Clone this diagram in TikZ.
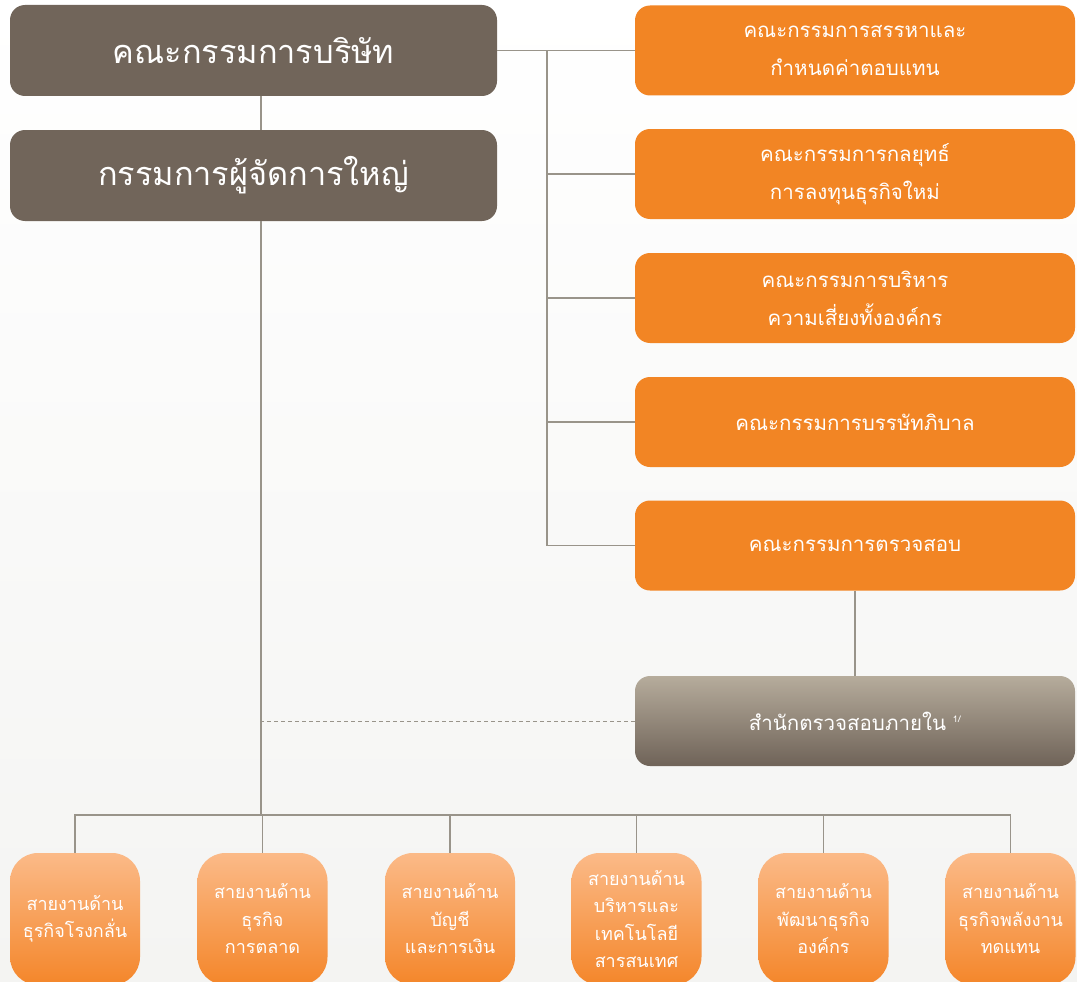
\documentclass[tikz,border=0pt]{standalone}
\usepackage{fontspec}
\newfontfamily\thai[Script=Thai]{Loma}
\definecolor{brownbox}{RGB}{113,101,90}
\definecolor{orangebox}{RGB}{242,133,36}
\definecolor{iatop}{RGB}{182,172,156}
\definecolor{iabot}{RGB}{111,99,88}
\definecolor{divtop}{RGB}{251,186,136}
\definecolor{divbot}{RGB}{244,134,42}
\definecolor{linec}{RGB}{153,148,138}
\definecolor{bgbot}{RGB}{244,244,242}
\tikzset{
  topbox/.style={fill=brownbox, rounded corners=15pt, minimum width=487pt, minimum height=91pt, inner sep=0pt, text=white, font=\thai\fontsize{32.5}{38}\selectfont},
  combox/.style={fill=orangebox, rounded corners=15pt, minimum width=440pt, minimum height=90pt, inner sep=0pt, text=white, align=center, font=\thai\fontsize{20.5}{38}\selectfont},
  iabox/.style={top color=iatop, bottom color=iabot, rounded corners=15pt, minimum width=440pt, minimum height=90pt, inner sep=0pt, text=white, font=\thai\fontsize{20.5}{38}\selectfont},
  divbox/.style={top color=divtop, bottom color=divbot, rounded corners=28pt, minimum width=130pt, minimum height=132pt, inner sep=0pt, text=white, align=center, font=\thai\fontsize{18}{27.5}\selectfont},
  conn/.style={draw=linec, line width=1.1pt},
}
\begin{document}
\begin{tikzpicture}[x=1pt,y=-1pt]
\useasboundingbox (0,0) rectangle (1077,982);
\clip (0,0) rectangle (1077,982);
\shade[top color=white, bottom color=bgbot] (0,0) rectangle (1077,982);
% coordinates
\coordinate (sp) at (261,815);
\coordinate (tr) at (547,0);
\coordinate (bus) at (0,815);
% top boxes
\node[topbox] (board) at (253.5,50.5) {คณะกรรมการบริษัท};
\node[topbox] (md) at (253.5,175.5) {กรรมการผู้จัดการใหญ่};
% committees
\node[combox] (c1) at (855,50.5) {คณะกรรมการสรรหาและ\\กำหนดค่าตอบแทน};
\node[combox] (c2) at (855,174) {คณะกรรมการกลยุทธ์\\การลงทุนธุรกิจใหม่};
\node[combox] (c3) at (855,298) {คณะกรรมการบริหาร\\ความเสี่ยงทั้งองค์กร};
\node[combox] (c4) at (855,422) {คณะกรรมการบรรษัทภิบาล};
\node[combox] (c5) at (855,545.5) {คณะกรรมการตรวจสอบ};
\node[iabox] (ia) at (855,721) {สำนักตรวจสอบภายใน \textsuperscript{\fontsize{9}{9}\selectfont 1/}};
% divisions
\node[divbox] (d1) at (75,919) {สายงานด้าน\\ธุรกิจโรงกลั่น};
\node[divbox] (d2) at (262.5,919) {สายงานด้าน\\ธุรกิจ\\การตลาด};
\node[divbox] (d3) at (450,919) {สายงานด้าน\\บัญชี\\และการเงิน};
\node[divbox] (d4) at (636.5,919) {สายงานด้าน\\บริหารและ\\เทคโนโลยี\\สารสนเทศ};
\node[divbox] (d5) at (823.5,919) {สายงานด้าน\\พัฒนาธุรกิจ\\องค์กร};
\node[divbox] (d6) at (1010.5,919) {สายงานด้าน\\ธุรกิจพลังงาน\\ทดแทน};
% lines
\draw[conn] (board.south -| sp) -- (md.north -| sp);
\draw[conn] (md.south -| sp) -- (sp);
\draw[conn] (board.east) -- (c1.west);
\draw[conn] (board.east -| tr) -- (c5.west -| tr);
\foreach \c in {c2,c3,c4,c5} \draw[conn] (\c.west -| tr) -- (\c.west);
\draw[conn] (c5.south) -- (ia.north);
\draw[conn, dash pattern=on 4pt off 3pt, line width=0.8pt] (ia.west) -- (ia.west -| sp);
\draw[conn] (d1.north) -- (d1.north |- bus) -- (d6.north |- bus) -- (d6.north);
\foreach \d in {d2,d3,d4,d5} \draw[conn] (\d.north) -- (\d.north |- bus);
\end{tikzpicture}
\end{document}
